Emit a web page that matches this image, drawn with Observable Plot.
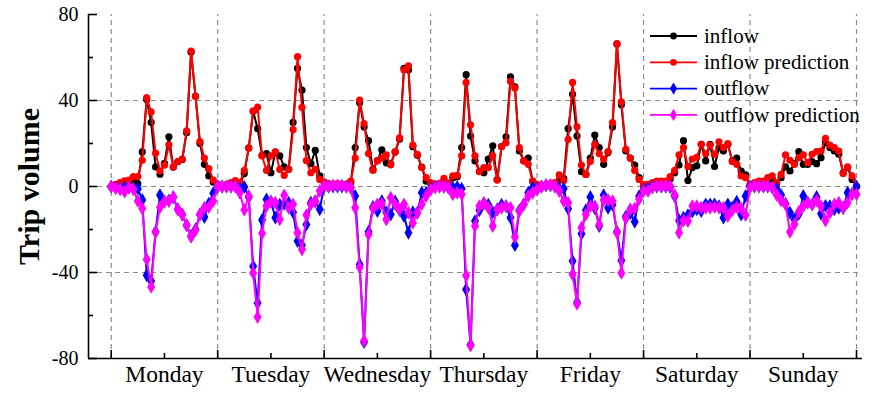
<!DOCTYPE html>
<html><head><meta charset="utf-8">
<script src="https://cdn.jsdelivr.net/npm/d3@7"></script>
<script src="https://cdn.jsdelivr.net/npm/@observablehq/plot@0.6"></script>
<style>
html,body{margin:0;padding:0;background:#fff;}
#wrap{position:relative;width:875px;height:397px;overflow:hidden;}
#wrap svg{position:absolute;left:0;top:0;}
</style></head><body><div id="wrap"></div>
<script>
const days = ["Monday","Tuesday","Wednesday","Thursday","Friday","Saturday","Sunday"];
const yTicks = [-80, -40, 0, 40, 80];
const yMinor = [-60, -20, 20, 60];
const yGrid = [-40, 0, 40];
const seriesNames = ["inflow", "inflow prediction", "outflow", "outflow prediction"];

// hourly values, 24 per day (Mon..Sun) + final point
const inflow = [
  0,0.5,1,2,2.5,3,1.3,16.1,40.5,29.8,9.1,5.7,10.8,23.1,9,11.5,12.5,25,62.5,42,20,10.3,4.9,2,
  1,0.5,0.5,1.5,2,1,6,18,35,26.9,14.5,15.3,6.4,16,14.2,9.1,8,29.8,54.9,44.8,18.1,10.6,16.8,4.9,
  2,1,1,1,1,1,2,18.1,39,27.7,21.3,8,12,17,11,10.5,16,22,55,54.2,18.5,14.5,9,2.5,
  1.5,1,1.2,2.5,1.5,4,4.5,18.1,52,23.5,11.9,7,6.4,12.7,18.9,3.2,18.6,23.1,51,46.4,16.5,11.9,13.2,2.5,
  0.8,0.5,0.7,1,1.5,3,3.8,26.9,42.9,23.5,6.9,5.6,13.2,23.9,18.1,10.3,15.8,27.7,66.3,38,16.5,13.2,10,4.1,
  0.5,0.8,1.5,2,2,2,3.5,6.4,10,21.3,2.8,8.8,9.6,19.6,11.9,19.6,9.3,18.1,16.5,19.6,11.9,13.2,7.2,5.4,
  0.5,1,1.5,2,3,3.5,1.3,4.1,9.1,7.2,10.6,16.2,10.3,10.3,11.6,10.6,13.4,20.4,18.1,16.5,15,6.4,8.8,3.3,
  0
];
const inflowPred = [
  0,1,1.8,2.6,3,4.6,4.6,12.2,41.3,34.7,15.5,7.2,9.9,19.4,9.1,11.6,12.7,25.9,63,41.9,20.9,13.2,8.3,3,
  1,0.5,1,1.8,2.8,1.8,7.5,17.8,35.2,36.9,14.2,7.5,14.2,16.1,8,5.2,8,26.5,60.4,36.8,12,6.4,8,3.3,
  2,1.3,1,1.3,1,1,2.5,13.2,40.2,29.3,15.3,7.5,11.9,13.2,14.7,10.1,16.2,22.6,54.2,56.1,19.3,14.9,8.8,4.1,
  1.8,1,1.5,3.8,1.5,4.9,5.2,14.2,48.4,28.7,14.2,6.9,8.8,8.8,14.2,3,18.6,20.4,48.9,45.8,18.1,11.9,10.3,2.5,
  1,0.5,0.7,1.3,1.8,5.4,2.8,21.9,48.4,27.8,10,5.6,11.6,19.6,15.3,12.7,16.2,29.7,66.3,39.4,17.3,13.2,7.5,3.3,
  0.9,1,1.8,2.5,2.5,2.5,4.6,7.5,14.7,18.1,9.3,12.8,13.6,19.6,15.3,19.3,14.9,20.8,18.1,19.9,11.6,10.3,4.9,4.1,
  0.9,1.8,2.5,2.5,4.1,4.9,1.8,5.6,14.7,12.2,10.3,13.4,14.7,11.1,15,16.2,16.5,22.4,19.3,18.1,16.5,6,9.1,4.9,
  0.2
];
const outflow = [
  0,-0.5,-1,-0.5,-0.5,-1,-1,-6.3,-41.3,-44,-21,-4,-7,-6.5,-5,-10.5,-13,-18,-23,-20,-13,-14.2,-8,-3.1,
  0,0,0,0,0,-1,-0.2,-5,-37.1,-54.2,-15.6,-6,-7,-14.5,-8.5,-8,-7.5,-12,-25.4,-27.3,-17.7,-7.5,-7,-10.6,
  0,0,0,0,0,0,-0.5,-4.4,-36.3,-72.4,-21,-9.5,-11.4,-6.8,-12,-13,-7,-11,-13.7,-21.5,-12,-12.2,-2.9,-2.9,
  -1,0,0,0,-0.5,-0.5,-0.2,-1,-47.9,-73.6,-16.1,-11.1,-7.8,-8.5,-12,-10.7,-8.5,-9.1,-14.5,-27.3,-11.1,-8.3,-2.9,-0.5,
  -1,0,0.5,0.5,0,-1,-1,-10.3,-34.7,-54,-22,-11,-4.9,-10,-18.4,-4,-9.9,-8.5,-21,-34.4,-14,-12.5,-16.4,-4.5,
  -1.5,-1,0,0,0,0,-0.3,-4.4,-15.8,-14.5,-13.3,-11.7,-10.6,-11.4,-8.3,-8.3,-8.3,-9.1,-14.5,-8.3,-9.9,-7.1,-13,-4.4,
  0,0,0,0,0,-0.5,-1,-4,-8,-12.2,-15.3,-12.7,-4.4,-7.5,-8.3,-4.9,-12.7,-9,-9.1,-10.6,-9.9,-10,-2.9,-3.5,
  0
];
const outflowPred = [
  0,-0.9,-1.3,-2.4,-0.5,-1.3,-6.8,-10.2,-33.9,-46.7,-21.2,-9.6,-7.1,-6.8,-4.9,-10.7,-13,-18,-23.4,-20.4,-13,-9.9,-9.6,-6.8,
  0,0,0,0,0,-2.9,-10.9,-4.4,-40.2,-60.7,-21.8,-9.1,-7.1,-7.5,-15.3,-4.1,-9.9,-8.3,-21.5,-29.3,-13.3,-8.3,-6.8,-2.1,
  0.5,-0.2,0.5,0.5,0.5,-0.2,-0.5,-9.9,-37.5,-71.8,-22.3,-10.2,-8.3,-8,-15.3,-5.2,-8.3,-10.7,-8.3,-12.2,-16.9,-12.2,-8.3,-4.4,
  -1.5,-0.5,0,0,-0.5,-3.6,-2.9,-3.6,-41.4,-73.9,-18.4,-9.1,-7.8,-9.9,-18.4,-10.7,-9.9,-9.1,-9.9,-23.5,-11.4,-8.3,-4.4,-2.9,
  -1.5,-0.2,0.7,0.7,0.2,-2.1,-6.8,-7.5,-40.9,-54.6,-19.2,-13,-9.1,-9.1,-17.6,-6.3,-6.3,-6.8,-21.5,-40.2,-14.8,-10.6,-10.2,-5.9,
  -2.1,-2.1,-0.5,0.2,0.2,0.2,0.2,-3.9,-21.5,-15.8,-16.1,-9.1,-9.1,-9.9,-9.9,-9.9,-9.6,-9.9,-9.9,-13.7,-11.1,-9.6,-10.2,-13.3,
  -0.5,0.2,0.2,0.2,0.2,-0.5,-3.9,-6.5,-8.3,-21.1,-17.6,-11.7,-9.1,-7.5,-8.3,-6.5,-9.1,-15.8,-12.2,-8.3,-7.5,-9.9,-7.5,-3.6,
  -3.6
];

const W = 875, H = 397;
const mL = 88, mR = 13, mT = 14, mB = 39;
const xDomain = [-5.12, 169.35];
const yDomain = [yTicks[0], yTicks[yTicks.length - 1]];
const pxPerX = (W - mL - mR) / (xDomain[1] - xDomain[0]);
const pxPerY = (H - mT - mB) / (yDomain[1] - yDomain[0]);

const dayBounds = days.map((d, i) => i * 24).concat([days.length * 24]);
const dayMinor = days.map((d, i) => i * 24 + 12);
const toRows = arr => arr.map((v, h) => ({h, v}));
const font = "'Liberation Serif','Times New Roman',serif";

const colors = ["#000000", "#ff0000", "#0000ff", "#ff00ff"];
const symbols = ["circle", "circle", "diamond", "diamond"];
const all = [inflow, inflowPred, outflow, outflowPred];

const marks = [
  Plot.ruleY(yGrid, {stroke: "#8c8c8c", strokeWidth: 1.2, strokeDasharray: "5,4"}),
  Plot.ruleX(dayBounds, {y1: yDomain[0], y2: yDomain[1], stroke: "#8c8c8c", strokeWidth: 1.2, strokeDasharray: "5,4"})
];
all.forEach((arr, k) => {
  const rows = toRows(arr);
  marks.push(Plot.line(rows, {x: "h", y: "v", stroke: colors[k], strokeWidth: 2}));
  marks.push(Plot.dot(rows, {x: "h", y: "v", fill: colors[k], stroke: "none",
    symbol: symbols[k], r: symbols[k] === "circle" ? 3.6 : 4.2}));
});
// axes lines
marks.push(Plot.ruleX([xDomain[0]], {y1: yDomain[0], y2: yDomain[1], stroke: "#000", strokeWidth: 1.6}));
marks.push(Plot.ruleY([yDomain[0]], {x1: xDomain[0], x2: xDomain[1], stroke: "#000", strokeWidth: 1.6}));
// inward ticks
marks.push(Plot.ruleY(yTicks, {x1: xDomain[0], x2: xDomain[0] + 9 / pxPerX, stroke: "#000", strokeWidth: 1.6}));
marks.push(Plot.ruleY(yMinor, {x1: xDomain[0], x2: xDomain[0] + 5 / pxPerX, stroke: "#000", strokeWidth: 1.6}));
marks.push(Plot.ruleX(dayBounds, {y1: yDomain[0], y2: yDomain[0] + 8 / pxPerY, stroke: "#000", strokeWidth: 1.6}));
marks.push(Plot.ruleX(dayMinor, {y1: yDomain[0], y2: yDomain[0] + 5 / pxPerY, stroke: "#000", strokeWidth: 1.6}));
// tick labels
marks.push(Plot.axisY(yTicks, {tickSize: 0, tickPadding: 10, fontSize: 20, tickFormat: d => String(d), label: null}));
marks.push(Plot.axisX(dayMinor, {tickSize: 0, tickPadding: 7, fontSize: 23.5, tickFormat: d => days[Math.floor(d / 24)], label: null}));
// y title
marks.push(Plot.text(["Trip volume"], {frameAnchor: "left", textAnchor: "middle", dx: -59, rotate: -90, fontSize: 30, fontWeight: "bold"}));

const chart = Plot.plot({
  width: W, height: H,
  marginLeft: mL, marginRight: mR, marginTop: mT, marginBottom: mB,
  x: {domain: xDomain},
  y: {domain: yDomain},
  style: {fontFamily: font, background: "#fff", color: "#000", overflow: "visible"},
  marks
});
const wrap = document.getElementById("wrap");
wrap.appendChild(chart);

// legend overlay
const leg = d3.select(wrap).append("svg").attr("width", W).attr("height", H)
  .style("pointer-events", "none");
const lx0 = 650, lx1 = 697, ly0 = 36, ldy = 26.3;
seriesNames.forEach((name, k) => {
  const y = ly0 + k * ldy;
  leg.append("line").attr("x1", lx0).attr("x2", lx1).attr("y1", y).attr("y2", y)
    .attr("stroke", colors[k]).attr("stroke-width", 1.8);
  const sym = d3.symbol().type(symbols[k] === "circle" ? d3.symbolCircle : d3.symbolDiamond)
    .size(symbols[k] === "circle" ? 36 : 44);
  leg.append("path").attr("d", sym()).attr("transform", `translate(${(lx0 + lx1) / 2},${y})`)
    .attr("fill", colors[k]);
  leg.append("text").attr("x", lx1 + 7).attr("y", y).attr("dy", "0.32em")
    .attr("font-family", font).attr("font-size", 21).text(name);
});
</script></body></html>
